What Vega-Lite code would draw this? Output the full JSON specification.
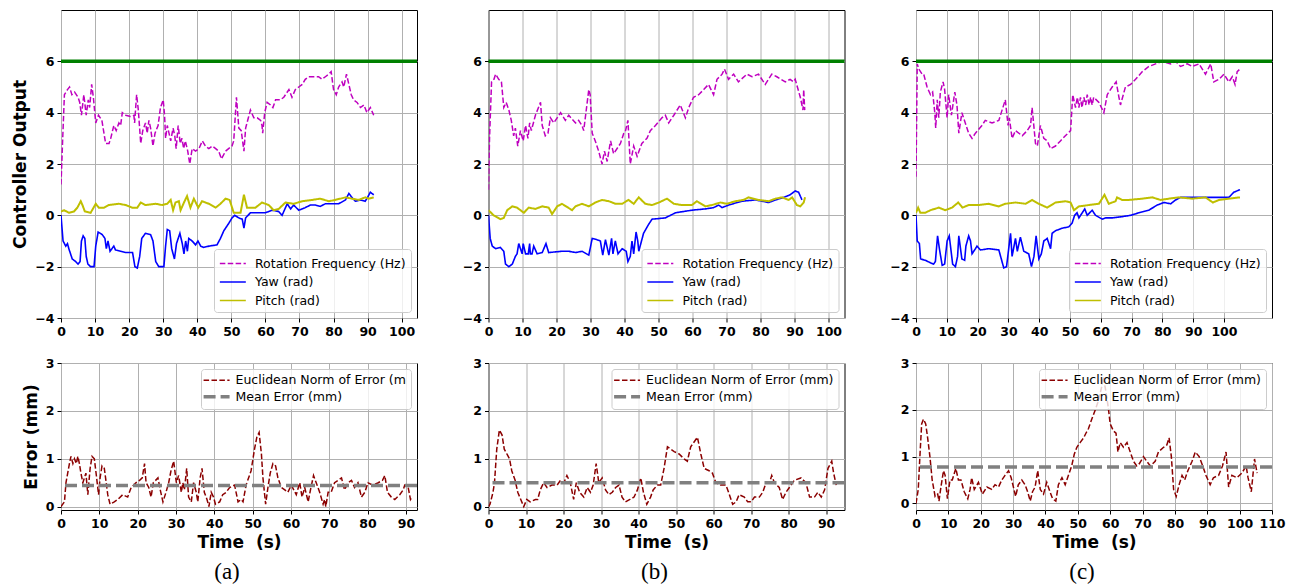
{
"$schema": "https://vega.github.io/schema/vega-lite/v6.json",
"padding": {"left": 11, "top": 9, "right": 5, "bottom": 5},
"background": "white",
"datasets": {
"a_rot": [{"t":0,"v":1.2},{"t":0.5,"v":3.0},{"t":1,"v":4.7},{"t":1.9,"v":4.9},{"t":2.5,"v":5.0},{"t":3.2,"v":4.7},{"t":4,"v":4.8},{"t":5,"v":4.6},{"t":5.5,"v":4.4},{"t":6,"v":3.9},{"t":6.7,"v":4.7},{"t":7.4,"v":3.9},{"t":8,"v":4.5},{"t":8.4,"v":4.2},{"t":9,"v":5.1},{"t":9.5,"v":4.6},{"t":10.2,"v":3.6},{"t":11,"v":3.9},{"t":12,"v":3.7},{"t":13.1,"v":2.8},{"t":14.1,"v":2.8},{"t":14.6,"v":3.0},{"t":15.5,"v":3.5},{"t":16.2,"v":3.3},{"t":17,"v":3.6},{"t":17.5,"v":3.5},{"t":18,"v":4.0},{"t":19,"v":3.9},{"t":20.4,"v":3.85},{"t":21.4,"v":3.9},{"t":21.6,"v":3.6},{"t":22.2,"v":4.7},{"t":22.7,"v":4.1},{"t":23.4,"v":2.8},{"t":24,"v":3.3},{"t":24.8,"v":3.6},{"t":25.3,"v":3.2},{"t":25.8,"v":3.7},{"t":26.3,"v":3.4},{"t":27,"v":2.7},{"t":27.6,"v":3.2},{"t":28.5,"v":3.5},{"t":29.2,"v":4.2},{"t":30,"v":4.5},{"t":30.4,"v":3.9},{"t":30.7,"v":3.0},{"t":31.2,"v":3.5},{"t":31.7,"v":3.2},{"t":32.2,"v":2.9},{"t":32.9,"v":3.4},{"t":33.4,"v":3.1},{"t":33.8,"v":2.6},{"t":34.4,"v":3.5},{"t":35,"v":2.8},{"t":35.5,"v":3.0},{"t":36,"v":2.6},{"t":36.5,"v":2.9},{"t":37.2,"v":2.5},{"t":37.8,"v":2.0},{"t":38.5,"v":2.6},{"t":39.5,"v":2.5},{"t":40.5,"v":2.6},{"t":41.5,"v":2.9},{"t":42.4,"v":2.7},{"t":43.4,"v":2.6},{"t":44.4,"v":2.7},{"t":45.4,"v":2.6},{"t":46.3,"v":2.5},{"t":47.1,"v":2.2},{"t":48.3,"v":2.5},{"t":49.2,"v":2.6},{"t":50.2,"v":2.7},{"t":50.7,"v":2.9},{"t":51.5,"v":4.6},{"t":52.2,"v":3.4},{"t":52.9,"v":3.3},{"t":53.7,"v":2.5},{"t":54.2,"v":3.4},{"t":55,"v":3.8},{"t":55.6,"v":4.1},{"t":56.6,"v":3.8},{"t":57.6,"v":3.8},{"t":58.6,"v":3.7},{"t":59,"v":3.5},{"t":59.2,"v":3.2},{"t":59.8,"v":4.0},{"t":60.5,"v":4.4},{"t":61.5,"v":4.3},{"t":62.2,"v":4.2},{"t":63,"v":4.5},{"t":64.4,"v":4.5},{"t":65.4,"v":4.6},{"t":66.9,"v":4.9},{"t":67.8,"v":4.6},{"t":68.8,"v":4.9},{"t":69.8,"v":5.0},{"t":70.8,"v":5.1},{"t":71.7,"v":5.3},{"t":72.7,"v":5.4},{"t":74.2,"v":5.4},{"t":75.6,"v":5.4},{"t":76.6,"v":5.3},{"t":77.6,"v":5.4},{"t":78.6,"v":5.5},{"t":79.3,"v":5.6},{"t":80,"v":4.9},{"t":80.8,"v":4.7},{"t":81.5,"v":5.0},{"t":82.5,"v":5.2},{"t":83,"v":5.0},{"t":83.8,"v":5.5},{"t":84.5,"v":5.1},{"t":85.2,"v":4.7},{"t":85.9,"v":4.5},{"t":86.9,"v":4.4},{"t":87.9,"v":4.2},{"t":88.9,"v":4.3},{"t":89.8,"v":4.0},{"t":90.8,"v":4.2},{"t":91.8,"v":3.9}],
"a_yaw": [{"t":0,"v":0},{"t":0.6,"v":-1.0},{"t":1.4,"v":-1.2},{"t":1.9,"v":-1.1},{"t":2.3,"v":-1.3},{"t":2.8,"v":-1.5},{"t":3.3,"v":-1.7},{"t":4.3,"v":-1.8},{"t":5,"v":-1.9},{"t":5.6,"v":-1.8},{"t":6,"v":-1.0},{"t":6.5,"v":-0.8},{"t":7,"v":-0.9},{"t":7.4,"v":-1.6},{"t":7.9,"v":-1.9},{"t":8.7,"v":-2.0},{"t":9.7,"v":-2.0},{"t":10.2,"v":-1.2},{"t":10.9,"v":-0.65},{"t":12.1,"v":-0.75},{"t":12.9,"v":-0.9},{"t":13.3,"v":-1.3},{"t":13.8,"v":-1.0},{"t":14.4,"v":-1.4},{"t":15.5,"v":-1.2},{"t":16,"v":-1.35},{"t":17.5,"v":-1.4},{"t":19,"v":-1.45},{"t":21,"v":-1.45},{"t":21.7,"v":-2.0},{"t":22.4,"v":-2.05},{"t":23.1,"v":-1.6},{"t":23.7,"v":-0.9},{"t":24.8,"v":-0.7},{"t":26.3,"v":-0.75},{"t":27,"v":-1.0},{"t":27.8,"v":-1.8},{"t":28.7,"v":-2.0},{"t":30.2,"v":-2.0},{"t":30.7,"v":-1.2},{"t":31.2,"v":-0.55},{"t":31.9,"v":-0.6},{"t":32.5,"v":-1.3},{"t":33.3,"v":-1.7},{"t":33.9,"v":-1.1},{"t":34.9,"v":-0.7},{"t":35.6,"v":-1.1},{"t":36.1,"v":-1.5},{"t":36.6,"v":-1.0},{"t":37.1,"v":-1.4},{"t":37.5,"v":-0.9},{"t":38.5,"v":-1.0},{"t":39.5,"v":-1.15},{"t":40.2,"v":-1.0},{"t":41,"v":-1.2},{"t":41.9,"v":-1.25},{"t":43.4,"v":-1.2},{"t":45.8,"v":-1.15},{"t":46.8,"v":-0.9},{"t":47.8,"v":-0.6},{"t":49.3,"v":-0.3},{"t":50.2,"v":-0.1},{"t":51,"v":0.0},{"t":52.2,"v":-0.1},{"t":53.2,"v":-0.15},{"t":53.7,"v":-0.5},{"t":54.2,"v":-0.1},{"t":55.6,"v":0.1},{"t":57.6,"v":0.1},{"t":60,"v":0.1},{"t":62,"v":0.2},{"t":63.9,"v":0.15},{"t":64.9,"v":0.0},{"t":65.9,"v":0.3},{"t":66.4,"v":0.45},{"t":67.4,"v":0.25},{"t":68.3,"v":0.4},{"t":69.8,"v":0.2},{"t":71.7,"v":0.3},{"t":73.2,"v":0.4},{"t":74.7,"v":0.4},{"t":76.1,"v":0.35},{"t":77.6,"v":0.45},{"t":79.6,"v":0.45},{"t":81.5,"v":0.45},{"t":83.5,"v":0.6},{"t":84.5,"v":0.85},{"t":85.4,"v":0.7},{"t":86.4,"v":0.55},{"t":87.9,"v":0.6},{"t":89.3,"v":0.55},{"t":90,"v":0.7},{"t":90.8,"v":0.9},{"t":91.8,"v":0.8}],
"a_pitch": [{"t":0,"v":0.15},{"t":0.9,"v":0.2},{"t":2.3,"v":0.1},{"t":3.8,"v":0.15},{"t":4.8,"v":0.3},{"t":5.8,"v":0.55},{"t":6.3,"v":0.4},{"t":7,"v":0.15},{"t":8.7,"v":0.1},{"t":10.2,"v":0.45},{"t":11.1,"v":0.3},{"t":12.6,"v":0.3},{"t":14,"v":0.4},{"t":17,"v":0.45},{"t":19,"v":0.4},{"t":20.9,"v":0.3},{"t":22.4,"v":0.3},{"t":23.4,"v":0.5},{"t":24.8,"v":0.4},{"t":27.8,"v":0.45},{"t":29.7,"v":0.4},{"t":31.2,"v":0.45},{"t":32.2,"v":0.6},{"t":32.9,"v":0.2},{"t":33.6,"v":0.5},{"t":34.6,"v":0.55},{"t":35.1,"v":0.2},{"t":36.1,"v":0.5},{"t":37,"v":0.75},{"t":38,"v":0.3},{"t":39,"v":0.65},{"t":40.3,"v":0.3},{"t":41.4,"v":0.55},{"t":43.4,"v":0.45},{"t":45.4,"v":0.3},{"t":46.8,"v":0.45},{"t":48.3,"v":0.65},{"t":49.5,"v":0.6},{"t":50.7,"v":0.1},{"t":52.7,"v":0.1},{"t":53.7,"v":0.8},{"t":54.6,"v":0.3},{"t":57.1,"v":0.3},{"t":59,"v":0.5},{"t":61,"v":0.4},{"t":62.4,"v":0.2},{"t":63.9,"v":0.25},{"t":65.9,"v":0.5},{"t":68.3,"v":0.45},{"t":70.8,"v":0.55},{"t":73.7,"v":0.6},{"t":76.1,"v":0.65},{"t":78.6,"v":0.55},{"t":80.5,"v":0.6},{"t":83.5,"v":0.7},{"t":85.4,"v":0.65},{"t":87.4,"v":0.6},{"t":89.3,"v":0.7},{"t":90.3,"v":0.65},{"t":91.8,"v":0.7}],
"b_rot": [{"t":0,"v":1.0},{"t":0.3,"v":3.0},{"t":0.9,"v":5.2},{"t":1.6,"v":5.3},{"t":2.1,"v":5.5},{"t":3,"v":5.3},{"t":3.8,"v":5.2},{"t":4.5,"v":4.2},{"t":5.2,"v":4.4},{"t":6,"v":4.1},{"t":6.7,"v":3.7},{"t":7.4,"v":3.1},{"t":7.9,"v":3.4},{"t":8.6,"v":2.7},{"t":9.4,"v":3.3},{"t":10.2,"v":2.9},{"t":10.9,"v":3.5},{"t":11.6,"v":3.0},{"t":12.1,"v":3.6},{"t":12.6,"v":3.3},{"t":13.8,"v":3.9},{"t":15.3,"v":4.4},{"t":15.8,"v":3.5},{"t":16.7,"v":3.1},{"t":17.5,"v":3.2},{"t":18.2,"v":3.8},{"t":19.2,"v":3.6},{"t":21.2,"v":4.0},{"t":22.6,"v":3.7},{"t":23.6,"v":3.9},{"t":25.6,"v":3.6},{"t":26.5,"v":3.7},{"t":27.5,"v":3.5},{"t":28,"v":3.3},{"t":29.5,"v":4.9},{"t":29.9,"v":4.7},{"t":30.5,"v":3.2},{"t":31.4,"v":2.9},{"t":32.4,"v":2.5},{"t":33.4,"v":2.0},{"t":34.1,"v":2.5},{"t":34.9,"v":2.1},{"t":35.9,"v":2.9},{"t":36.8,"v":2.4},{"t":38.8,"v":2.8},{"t":39.8,"v":3.2},{"t":40.3,"v":3.3},{"t":41,"v":3.7},{"t":41.7,"v":2.0},{"t":42.7,"v":2.7},{"t":43.7,"v":2.3},{"t":45.1,"v":2.8},{"t":46.6,"v":3.0},{"t":47.6,"v":3.3},{"t":49.1,"v":3.5},{"t":51,"v":3.8},{"t":52,"v":3.9},{"t":53,"v":3.6},{"t":54.5,"v":3.9},{"t":56.4,"v":4.3},{"t":57.9,"v":3.8},{"t":58.9,"v":4.2},{"t":60.3,"v":4.6},{"t":61.8,"v":4.7},{"t":63.3,"v":4.9},{"t":64.7,"v":5.1},{"t":66.2,"v":4.7},{"t":67.2,"v":5.3},{"t":68.7,"v":5.5},{"t":69.4,"v":5.7},{"t":70.6,"v":5.3},{"t":72.1,"v":5.5},{"t":73.5,"v":5.2},{"t":76,"v":5.5},{"t":77.5,"v":5.4},{"t":79.4,"v":5.5},{"t":81.4,"v":5.1},{"t":83.3,"v":5.5},{"t":84.8,"v":5.4},{"t":87.3,"v":5.2},{"t":88.7,"v":5.3},{"t":89.7,"v":5.2},{"t":90.2,"v":5.3},{"t":91.7,"v":4.6},{"t":92.5,"v":4.1},{"t":92.7,"v":4.9},{"t":93,"v":4.1}],
"b_yaw": [{"t":0,"v":0},{"t":0.5,"v":-0.9},{"t":1.1,"v":-1.2},{"t":2.1,"v":-1.3},{"t":3.5,"v":-1.25},{"t":4.5,"v":-1.4},{"t":5,"v":-1.9},{"t":6,"v":-2.0},{"t":7,"v":-1.9},{"t":7.9,"v":-1.6},{"t":8.4,"v":-1.5},{"t":8.9,"v":-1.1},{"t":9.9,"v":-1.5},{"t":10.2,"v":-1.1},{"t":10.9,"v":-1.5},{"t":11.7,"v":-1.5},{"t":12.1,"v":-1.1},{"t":12.3,"v":-1.5},{"t":12.8,"v":-1.5},{"t":13.3,"v":-1.2},{"t":14.3,"v":-1.5},{"t":15.8,"v":-1.45},{"t":16.9,"v":-1.1},{"t":17.7,"v":-1.45},{"t":21.6,"v":-1.4},{"t":23.6,"v":-1.4},{"t":25.6,"v":-1.45},{"t":27.5,"v":-1.4},{"t":29.5,"v":-1.55},{"t":30.5,"v":-0.9},{"t":31.9,"v":-0.95},{"t":32.9,"v":-1.0},{"t":33.6,"v":-1.55},{"t":34.4,"v":-0.95},{"t":35.4,"v":-1.55},{"t":36.2,"v":-0.9},{"t":36.6,"v":-1.5},{"t":37.3,"v":-1.0},{"t":38.1,"v":-1.5},{"t":39.3,"v":-1.3},{"t":40.5,"v":-1.4},{"t":41,"v":-1.8},{"t":41.7,"v":-1.6},{"t":42.2,"v":-1.0},{"t":42.7,"v":-1.5},{"t":43.4,"v":-0.65},{"t":43.9,"v":-1.0},{"t":44.2,"v":-1.4},{"t":45.6,"v":-0.7},{"t":47.1,"v":-0.35},{"t":48.1,"v":-0.15},{"t":52,"v":-0.1},{"t":55,"v":0.1},{"t":59.8,"v":0.2},{"t":63.8,"v":0.25},{"t":66.2,"v":0.3},{"t":67.7,"v":0.4},{"t":68.7,"v":0.3},{"t":70.6,"v":0.4},{"t":74.5,"v":0.55},{"t":78.5,"v":0.6},{"t":82.4,"v":0.5},{"t":84.4,"v":0.6},{"t":86.8,"v":0.7},{"t":88.7,"v":0.8},{"t":90.2,"v":0.95},{"t":91.2,"v":0.9},{"t":92.2,"v":0.6}],
"b_pitch": [{"t":0,"v":0.2},{"t":1.5,"v":0.0},{"t":3.5,"v":-0.15},{"t":4.5,"v":-0.1},{"t":5.5,"v":0.2},{"t":7,"v":0.35},{"t":8.4,"v":0.3},{"t":10.4,"v":0.1},{"t":11.8,"v":0.3},{"t":13.8,"v":0.25},{"t":15.8,"v":0.35},{"t":17.7,"v":0.3},{"t":18.7,"v":0.05},{"t":20.2,"v":0.35},{"t":21.6,"v":0.45},{"t":24.6,"v":0.2},{"t":25.6,"v":0.35},{"t":27.5,"v":0.45},{"t":29.5,"v":0.35},{"t":31.4,"v":0.5},{"t":33.4,"v":0.6},{"t":35.4,"v":0.55},{"t":37.3,"v":0.45},{"t":39.3,"v":0.45},{"t":41.2,"v":0.6},{"t":42.7,"v":0.45},{"t":44.2,"v":0.7},{"t":46.1,"v":0.45},{"t":48.1,"v":0.4},{"t":50.1,"v":0.5},{"t":52.5,"v":0.65},{"t":54.5,"v":0.45},{"t":56.9,"v":0.4},{"t":59.8,"v":0.4},{"t":61.3,"v":0.55},{"t":63.8,"v":0.35},{"t":65.7,"v":0.4},{"t":68.2,"v":0.5},{"t":70.1,"v":0.45},{"t":72.6,"v":0.55},{"t":75,"v":0.6},{"t":76.5,"v":0.7},{"t":79.4,"v":0.6},{"t":82.4,"v":0.55},{"t":84.4,"v":0.65},{"t":86.3,"v":0.7},{"t":88.3,"v":0.6},{"t":89.3,"v":0.7},{"t":90.7,"v":0.4},{"t":91.7,"v":0.35},{"t":92.7,"v":0.5},{"t":93.1,"v":0.7}],
"c_rot": [{"t":0,"v":1.5},{"t":0.4,"v":5.9},{"t":0.9,"v":5.7},{"t":2,"v":5.5},{"t":2.5,"v":5.5},{"t":3.6,"v":5.0},{"t":4.7,"v":4.7},{"t":5.4,"v":4.8},{"t":6.1,"v":4.0},{"t":6.4,"v":3.4},{"t":6.9,"v":4.5},{"t":7.4,"v":3.8},{"t":7.9,"v":4.8},{"t":8.8,"v":5.2},{"t":9.3,"v":4.9},{"t":10.1,"v":3.8},{"t":10.6,"v":4.7},{"t":11.5,"v":3.9},{"t":12.6,"v":4.8},{"t":13.3,"v":4.3},{"t":13.9,"v":3.2},{"t":14.9,"v":4.0},{"t":16,"v":3.6},{"t":17.1,"v":3.2},{"t":18.2,"v":3.0},{"t":19.3,"v":3.2},{"t":21.4,"v":3.5},{"t":22.5,"v":3.7},{"t":24.7,"v":3.6},{"t":26.9,"v":3.7},{"t":29,"v":4.5},{"t":29.9,"v":3.5},{"t":30.3,"v":3.8},{"t":31.2,"v":3.0},{"t":32.3,"v":3.3},{"t":34.5,"v":3.1},{"t":36.1,"v":3.3},{"t":37.2,"v":3.5},{"t":37.7,"v":4.2},{"t":38.8,"v":2.8},{"t":39.4,"v":2.7},{"t":40.4,"v":3.5},{"t":41.5,"v":3.0},{"t":42.6,"v":2.9},{"t":43.7,"v":2.6},{"t":45.3,"v":2.7},{"t":46.9,"v":2.9},{"t":48.5,"v":3.1},{"t":50.2,"v":3.3},{"t":50.9,"v":4.7},{"t":51.8,"v":4.2},{"t":52.4,"v":4.6},{"t":52.9,"v":4.2},{"t":53.4,"v":4.6},{"t":53.9,"v":4.2},{"t":54.5,"v":4.6},{"t":55.1,"v":4.3},{"t":55.6,"v":4.7},{"t":56.2,"v":4.3},{"t":56.7,"v":4.6},{"t":57.2,"v":4.3},{"t":57.7,"v":4.6},{"t":59.4,"v":4.4},{"t":61,"v":4.0},{"t":62.1,"v":4.7},{"t":63.7,"v":5.0},{"t":65,"v":5.2},{"t":65.9,"v":4.6},{"t":66.4,"v":4.3},{"t":68,"v":5.0},{"t":69.7,"v":5.1},{"t":71.3,"v":5.3},{"t":73.5,"v":5.6},{"t":75.6,"v":5.8},{"t":77.8,"v":5.9},{"t":80,"v":6.0},{"t":82.7,"v":5.9},{"t":84.3,"v":6.0},{"t":85.9,"v":5.8},{"t":88.1,"v":5.9},{"t":89.7,"v":5.8},{"t":91.9,"v":5.9},{"t":94,"v":5.5},{"t":95.7,"v":5.9},{"t":96.7,"v":5.2},{"t":98.4,"v":5.3},{"t":100,"v":5.5},{"t":101.6,"v":5.2},{"t":102.7,"v":5.4},{"t":103.6,"v":5.1},{"t":104.3,"v":5.6},{"t":105.2,"v":5.7}],
"c_yaw": [{"t":0,"v":0},{"t":0.4,"v":-1.0},{"t":1.1,"v":-1.1},{"t":1.5,"v":-1.7},{"t":3,"v":-1.75},{"t":4.7,"v":-1.85},{"t":5.7,"v":-1.9},{"t":6.3,"v":-1.8},{"t":7,"v":-0.8},{"t":7.6,"v":-1.3},{"t":8.5,"v":-1.95},{"t":9.3,"v":-1.9},{"t":10.1,"v":-1.0},{"t":10.8,"v":-0.8},{"t":11.9,"v":-1.9},{"t":12.8,"v":-2.0},{"t":13.5,"v":-1.6},{"t":13.9,"v":-0.8},{"t":14.9,"v":-1.7},{"t":15.8,"v":-1.75},{"t":16.2,"v":-1.2},{"t":17.1,"v":-0.8},{"t":17.7,"v":-1.0},{"t":18.2,"v":-1.5},{"t":19.3,"v":-1.3},{"t":19.8,"v":-1.2},{"t":20.9,"v":-1.35},{"t":23.6,"v":-1.3},{"t":26.9,"v":-1.35},{"t":28.5,"v":-2.05},{"t":29.4,"v":-2.0},{"t":30.1,"v":-1.3},{"t":30.7,"v":-0.7},{"t":31.2,"v":-1.6},{"t":32.3,"v":-0.9},{"t":32.9,"v":-1.4},{"t":33.9,"v":-0.85},{"t":35,"v":-1.4},{"t":36.6,"v":-1.5},{"t":37.5,"v":-2.0},{"t":38.3,"v":-1.6},{"t":39,"v":-0.8},{"t":39.9,"v":-1.7},{"t":40.7,"v":-1.5},{"t":41.5,"v":-1.0},{"t":42.6,"v":-0.9},{"t":43.7,"v":-1.3},{"t":44.2,"v":-0.7},{"t":45.3,"v":-0.6},{"t":47.5,"v":-0.5},{"t":49.6,"v":-0.45},{"t":50.7,"v":-0.3},{"t":51.5,"v":0.0},{"t":52.3,"v":0.1},{"t":52.9,"v":-0.1},{"t":54.8,"v":0.25},{"t":55.6,"v":0.0},{"t":57.2,"v":0.2},{"t":58.3,"v":0.0},{"t":60.5,"v":-0.15},{"t":61.6,"v":-0.1},{"t":63.7,"v":-0.1},{"t":67,"v":-0.05},{"t":69.7,"v":0.0},{"t":72.4,"v":0.1},{"t":75.6,"v":0.2},{"t":78.3,"v":0.4},{"t":80.5,"v":0.5},{"t":82.7,"v":0.45},{"t":84.3,"v":0.6},{"t":85.9,"v":0.7},{"t":89.7,"v":0.7},{"t":94,"v":0.7},{"t":98.4,"v":0.7},{"t":101.6,"v":0.7},{"t":103.2,"v":0.9},{"t":105.2,"v":1.0}],
"c_pitch": [{"t":0,"v":0.1},{"t":0.7,"v":0.3},{"t":1.4,"v":0.1},{"t":3,"v":0.1},{"t":4.7,"v":0.2},{"t":7.4,"v":0.3},{"t":9.5,"v":0.2},{"t":11.7,"v":0.3},{"t":13.7,"v":0.5},{"t":15.1,"v":0.3},{"t":17.1,"v":0.4},{"t":20.4,"v":0.4},{"t":23.6,"v":0.45},{"t":26.9,"v":0.35},{"t":29,"v":0.45},{"t":32.3,"v":0.5},{"t":35.6,"v":0.45},{"t":37.7,"v":0.6},{"t":39.9,"v":0.45},{"t":42.6,"v":0.3},{"t":45.3,"v":0.5},{"t":48.5,"v":0.55},{"t":50.2,"v":0.5},{"t":51.3,"v":0.2},{"t":52.9,"v":0.35},{"t":56.1,"v":0.4},{"t":59.4,"v":0.45},{"t":61.2,"v":0.8},{"t":62.6,"v":0.45},{"t":64.8,"v":0.55},{"t":65.3,"v":0.7},{"t":66.9,"v":0.6},{"t":69.1,"v":0.6},{"t":73.5,"v":0.65},{"t":76.7,"v":0.7},{"t":79.4,"v":0.6},{"t":82.1,"v":0.65},{"t":85.4,"v":0.7},{"t":89.7,"v":0.65},{"t":94,"v":0.7},{"t":96.4,"v":0.5},{"t":98.4,"v":0.6},{"t":101.6,"v":0.65},{"t":105.2,"v":0.7}],
"a_err": [{"t":0,"v":0},{"t":0.9,"v":0.1},{"t":1.3,"v":0.5},{"t":2.2,"v":0.9},{"t":2.6,"v":1.05},{"t":3.1,"v":0.9},{"t":3.5,"v":1.0},{"t":4,"v":0.9},{"t":4.4,"v":1.05},{"t":4.8,"v":0.9},{"t":5.2,"v":0.7},{"t":5.7,"v":0.5},{"t":6.1,"v":0.6},{"t":6.5,"v":0.7},{"t":7,"v":0.25},{"t":7.6,"v":0.8},{"t":8.1,"v":1.05},{"t":8.7,"v":1.0},{"t":9.3,"v":0.6},{"t":9.8,"v":0.25},{"t":10.2,"v":0.6},{"t":10.7,"v":0.85},{"t":11.3,"v":0.8},{"t":11.8,"v":0.5},{"t":12.2,"v":0.25},{"t":12.8,"v":0.05},{"t":13.9,"v":0.1},{"t":14.8,"v":0.15},{"t":16.1,"v":0.25},{"t":17.4,"v":0.2},{"t":18.3,"v":0.4},{"t":19.6,"v":0.5},{"t":20.5,"v":0.55},{"t":21.2,"v":0.6},{"t":21.8,"v":0.9},{"t":22.2,"v":0.5},{"t":22.9,"v":0.4},{"t":23.5,"v":0.2},{"t":24.1,"v":0.5},{"t":25.3,"v":0.6},{"t":25.9,"v":0.35},{"t":26.6,"v":0.1},{"t":27.4,"v":0.3},{"t":28.1,"v":0.5},{"t":28.7,"v":0.75},{"t":29.4,"v":0.95},{"t":30.1,"v":0.5},{"t":30.7,"v":0.65},{"t":31.4,"v":0.3},{"t":31.8,"v":0.5},{"t":32.2,"v":0.35},{"t":32.8,"v":0.8},{"t":33.3,"v":0.2},{"t":34,"v":0.1},{"t":34.6,"v":0.5},{"t":35.3,"v":0.3},{"t":35.7,"v":0.1},{"t":36.3,"v":0.6},{"t":36.8,"v":0.8},{"t":37.4,"v":0.3},{"t":38.1,"v":0.15},{"t":38.6,"v":0.0},{"t":39.2,"v":0.3},{"t":39.8,"v":0.2},{"t":40.3,"v":0.05},{"t":41.4,"v":0.1},{"t":42.2,"v":0.25},{"t":43.1,"v":0.3},{"t":44,"v":0.4},{"t":45.3,"v":0.45},{"t":46.2,"v":0.1},{"t":47,"v":0.15},{"t":47.5,"v":0.1},{"t":48.3,"v":0.45},{"t":49.6,"v":0.75},{"t":50.5,"v":1.2},{"t":51.1,"v":1.45},{"t":51.7,"v":1.55},{"t":52.3,"v":1.1},{"t":52.7,"v":0.6},{"t":53.4,"v":0.05},{"t":54,"v":0.4},{"t":54.6,"v":0.7},{"t":55.3,"v":0.9},{"t":56,"v":0.85},{"t":56.6,"v":0.6},{"t":57.5,"v":0.4},{"t":58.4,"v":0.35},{"t":59.2,"v":0.3},{"t":60.1,"v":0.45},{"t":61.4,"v":0.25},{"t":62.3,"v":0.5},{"t":62.9,"v":0.2},{"t":63.6,"v":0.4},{"t":64.5,"v":0.1},{"t":65.1,"v":0.35},{"t":65.9,"v":0.65},{"t":66.6,"v":0.5},{"t":67.5,"v":0.3},{"t":68.4,"v":0.05},{"t":68.8,"v":0.15},{"t":69.1,"v":0.0},{"t":69.7,"v":0.3},{"t":70.5,"v":0.3},{"t":71.4,"v":0.5},{"t":73.2,"v":0.6},{"t":74,"v":0.35},{"t":74.9,"v":0.5},{"t":75.8,"v":0.55},{"t":76.6,"v":0.4},{"t":77.5,"v":0.5},{"t":78.4,"v":0.2},{"t":79.3,"v":0.3},{"t":80.1,"v":0.5},{"t":81.4,"v":0.45},{"t":82.8,"v":0.5},{"t":83.9,"v":0.55},{"t":84.5,"v":0.65},{"t":85.2,"v":0.3},{"t":86.2,"v":0.2},{"t":87.1,"v":0.15},{"t":88.4,"v":0.25},{"t":89.3,"v":0.35},{"t":89.7,"v":0.45},{"t":90.6,"v":0.4},{"t":91.2,"v":0.15},{"t":91.6,"v":0.2}],
"b_err": [{"t":0,"v":0},{"t":0.4,"v":0.05},{"t":1.2,"v":0.3},{"t":1.6,"v":0.5},{"t":2.2,"v":1.2},{"t":2.9,"v":1.6},{"t":3.6,"v":1.5},{"t":4.2,"v":1.2},{"t":4.9,"v":1.1},{"t":5.6,"v":1.0},{"t":6.2,"v":0.75},{"t":7.1,"v":0.55},{"t":7.8,"v":0.3},{"t":8.6,"v":0.15},{"t":9.4,"v":0.0},{"t":10.2,"v":0.15},{"t":11.1,"v":0.1},{"t":12.5,"v":0.15},{"t":13.1,"v":0.15},{"t":13.8,"v":0.35},{"t":14.7,"v":0.5},{"t":15.6,"v":0.4},{"t":16.9,"v":0.45},{"t":18.3,"v":0.45},{"t":19.2,"v":0.55},{"t":20.1,"v":0.5},{"t":20.9,"v":0.65},{"t":21.8,"v":0.5},{"t":22.7,"v":0.15},{"t":23.4,"v":0.5},{"t":24.3,"v":0.3},{"t":25.4,"v":0.2},{"t":26.3,"v":0.4},{"t":27.2,"v":0.3},{"t":27.9,"v":0.45},{"t":28.7,"v":0.9},{"t":29.4,"v":0.5},{"t":30.3,"v":0.6},{"t":31.2,"v":0.35},{"t":32.1,"v":0.25},{"t":33,"v":0.3},{"t":33.9,"v":0.4},{"t":34.8,"v":0.45},{"t":35.6,"v":0.2},{"t":36.5,"v":0.1},{"t":37.7,"v":0.15},{"t":38.8,"v":0.2},{"t":39.7,"v":0.35},{"t":40.6,"v":0.6},{"t":41.3,"v":0.3},{"t":42.2,"v":0.05},{"t":43.2,"v":0.2},{"t":43.9,"v":0.35},{"t":45,"v":0.45},{"t":45.9,"v":0.45},{"t":46.8,"v":0.8},{"t":47.7,"v":1.25},{"t":48.6,"v":1.2},{"t":49.5,"v":1.15},{"t":50.8,"v":1.1},{"t":52.1,"v":1.0},{"t":53,"v":0.95},{"t":53.9,"v":1.25},{"t":54.8,"v":1.35},{"t":55.7,"v":1.45},{"t":56.6,"v":1.1},{"t":57.5,"v":0.8},{"t":58.8,"v":0.75},{"t":59.7,"v":0.7},{"t":60.6,"v":0.5},{"t":61.9,"v":0.45},{"t":63.3,"v":0.45},{"t":64,"v":0.3},{"t":65.1,"v":0.05},{"t":66,"v":0.1},{"t":66.8,"v":0.25},{"t":68.2,"v":0.2},{"t":69.1,"v":0.1},{"t":70,"v":0.1},{"t":70.9,"v":0.2},{"t":72.2,"v":0.2},{"t":73.1,"v":0.3},{"t":74,"v":0.5},{"t":74.9,"v":0.5},{"t":75.5,"v":0.65},{"t":76.2,"v":0.5},{"t":77.5,"v":0.4},{"t":78.4,"v":0.15},{"t":79.3,"v":0.3},{"t":80.2,"v":0.4},{"t":81.5,"v":0.55},{"t":83.3,"v":0.6},{"t":84.6,"v":0.5},{"t":85.6,"v":0.2},{"t":86.9,"v":0.2},{"t":87.8,"v":0.3},{"t":88.7,"v":0.2},{"t":89.6,"v":0.35},{"t":90.5,"v":0.8},{"t":91.5,"v":0.95},{"t":92,"v":0.7},{"t":92.7,"v":0.45}],
"c_err": [{"t":0,"v":0},{"t":0.7,"v":0.3},{"t":1.2,"v":1.0},{"t":1.75,"v":1.7},{"t":2.3,"v":1.8},{"t":3,"v":1.7},{"t":3.6,"v":1.4},{"t":4.3,"v":1.0},{"t":5,"v":0.5},{"t":5.9,"v":0.15},{"t":6.7,"v":0.2},{"t":7.1,"v":0.05},{"t":7.7,"v":0.35},{"t":8.5,"v":0.7},{"t":9,"v":0.6},{"t":9.7,"v":0.1},{"t":10.5,"v":0.5},{"t":11.2,"v":0.5},{"t":12.3,"v":0.75},{"t":13.1,"v":0.5},{"t":13.9,"v":0.5},{"t":14.9,"v":0.25},{"t":16,"v":0.1},{"t":16.7,"v":0.3},{"t":17.2,"v":0.55},{"t":18,"v":0.3},{"t":19.3,"v":0.45},{"t":20.5,"v":0.2},{"t":21.9,"v":0.35},{"t":23.4,"v":0.3},{"t":24.4,"v":0.4},{"t":25.5,"v":0.35},{"t":26.5,"v":0.5},{"t":27.5,"v":0.6},{"t":28.6,"v":0.7},{"t":29.4,"v":0.55},{"t":30.1,"v":0.35},{"t":30.8,"v":0.15},{"t":31.6,"v":0.4},{"t":32.7,"v":0.5},{"t":33.7,"v":0.4},{"t":34.5,"v":0.25},{"t":35.3,"v":0.05},{"t":36,"v":0.25},{"t":36.8,"v":0.35},{"t":37.6,"v":0.7},{"t":38.4,"v":0.3},{"t":39.4,"v":0.2},{"t":40.4,"v":0.45},{"t":41.4,"v":0.25},{"t":42.2,"v":0.1},{"t":43.2,"v":0.05},{"t":44,"v":0.4},{"t":45.1,"v":0.55},{"t":46.1,"v":0.4},{"t":47.1,"v":0.6},{"t":48.1,"v":0.8},{"t":48.9,"v":1.05},{"t":49.7,"v":1.2},{"t":50.7,"v":1.3},{"t":51.8,"v":1.4},{"t":52.5,"v":1.5},{"t":53.3,"v":1.6},{"t":54.3,"v":1.8},{"t":55.4,"v":2.0},{"t":56.4,"v":2.2},{"t":57.4,"v":2.5},{"t":57.9,"v":2.7},{"t":58.9,"v":2.3},{"t":59.5,"v":2.0},{"t":60,"v":1.7},{"t":61,"v":1.55},{"t":61.8,"v":1.5},{"t":62.4,"v":1.1},{"t":63.1,"v":1.3},{"t":64.1,"v":1.2},{"t":65.2,"v":1.3},{"t":66.2,"v":1.1},{"t":67.2,"v":0.9},{"t":68.2,"v":0.8},{"t":69,"v":0.85},{"t":70.3,"v":1.0},{"t":71.3,"v":0.9},{"t":72.4,"v":0.8},{"t":73.9,"v":0.9},{"t":74.9,"v":1.1},{"t":76.5,"v":1.2},{"t":77.5,"v":1.25},{"t":78.2,"v":1.4},{"t":78.9,"v":1.0},{"t":79.6,"v":0.3},{"t":80.4,"v":0.15},{"t":81.3,"v":0.4},{"t":82.2,"v":0.6},{"t":83,"v":0.5},{"t":84,"v":0.7},{"t":85.3,"v":0.9},{"t":86.3,"v":1.1},{"t":87.5,"v":1.0},{"t":88.6,"v":0.8},{"t":89.6,"v":0.6},{"t":90.9,"v":0.4},{"t":91.9,"v":0.55},{"t":93.5,"v":0.6},{"t":94.7,"v":0.8},{"t":95.8,"v":1.1},{"t":96.6,"v":0.35},{"t":97.6,"v":0.6},{"t":99.2,"v":0.55},{"t":100.7,"v":0.65},{"t":102,"v":0.8},{"t":102.6,"v":0.55},{"t":103.6,"v":0.25},{"t":104.6,"v":0.95},{"t":105.4,"v":0.65}]
},
"bounds": "full",
"spacing": 18,
"resolve": {"scale": {"color": "independent", "strokeDash": "independent"}, "legend": {"color": "independent", "strokeDash": "independent"}},
"vconcat": [
{
"hconcat": [
{"width": 356, "height": 308,
 "layer": [
  {"data": {"name": "a_rot"}, "mark": {"type": "line", "strokeWidth": 1.5, "clip": true},
   "encoding": {
    "x": {"field": "t", "type": "quantitative", "scale": {"domain": [0, 104.5], "nice": false, "zero": false}, "axis": {"values": [0,10,20,30,40,50,60,70,80,90,100], "title": null, "labelOverlap": false}},
    "y": {"field": "v", "type": "quantitative", "scale": {"domain": [-4, 8], "nice": false, "zero": false}, "axis": {"values": [-4,-2,0,2,4,6], "title": "Controller Output", "labelOverlap": false}},
    "color": {"datum": "Rotation Frequency (Hz)", "scale": {"domain": ["Rotation Frequency (Hz)", "Yaw (rad)", "Pitch (rad)"], "range": ["#bf00bf", "#0000ff", "#bfbf00"]}, "legend": {"orient": "bottom-right", "title": null}},
    "strokeDash": {"datum": "Rotation Frequency (Hz)", "scale": {"domain": ["Rotation Frequency (Hz)", "Yaw (rad)", "Pitch (rad)"], "range": [[5.5, 2.4], [1, 0], [1, 0]]}, "legend": {"orient": "bottom-right", "title": null}}
   }},
  {"data": {"name": "a_yaw"}, "mark": {"type": "line", "strokeWidth": 1.6, "clip": true},
   "encoding": {"x": {"field": "t", "type": "quantitative", "axis": {"values": [0,10,20,30,40,50,60,70,80,90,100], "title": null, "labelOverlap": false}}, "y": {"field": "v", "type": "quantitative", "axis": {"values": [-4,-2,0,2,4,6], "title": "Controller Output", "labelOverlap": false}}, "color": {"datum": "Yaw (rad)"}, "strokeDash": {"datum": "Yaw (rad)"}}},
  {"data": {"name": "a_pitch"}, "mark": {"type": "line", "strokeWidth": 2, "clip": true},
   "encoding": {"x": {"field": "t", "type": "quantitative", "axis": {"values": [0,10,20,30,40,50,60,70,80,90,100], "title": null, "labelOverlap": false}}, "y": {"field": "v", "type": "quantitative", "axis": {"values": [-4,-2,0,2,4,6], "title": "Controller Output", "labelOverlap": false}}, "color": {"datum": "Pitch (rad)"}, "strokeDash": {"datum": "Pitch (rad)"}}},
  {"data": {"values": [{"limit": 6}]}, "mark": {"type": "rule", "color": "#008000", "strokeWidth": 3.5},
   "encoding": {"y": {"field": "limit", "type": "quantitative", "axis": {"values": [-4,-2,0,2,4,6], "title": "Controller Output", "labelOverlap": false}}}}
 ]},
{"width": 356, "height": 308,
 "layer": [
  {"data": {"name": "b_rot"}, "mark": {"type": "line", "strokeWidth": 1.5, "clip": true},
   "encoding": {
    "x": {"field": "t", "type": "quantitative", "scale": {"domain": [0, 104.7], "nice": false, "zero": false}, "axis": {"values": [0,10,20,30,40,50,60,70,80,90,100], "title": null, "labelOverlap": false}},
    "y": {"field": "v", "type": "quantitative", "scale": {"domain": [-4, 8], "nice": false, "zero": false}, "axis": {"values": [-4,-2,0,2,4,6], "title": null, "labelOverlap": false}},
    "color": {"datum": "Rotation Frequency (Hz)", "scale": {"domain": ["Rotation Frequency (Hz)", "Yaw (rad)", "Pitch (rad)"], "range": ["#bf00bf", "#0000ff", "#bfbf00"]}, "legend": {"orient": "bottom-right", "title": null}},
    "strokeDash": {"datum": "Rotation Frequency (Hz)", "scale": {"domain": ["Rotation Frequency (Hz)", "Yaw (rad)", "Pitch (rad)"], "range": [[5.5, 2.4], [1, 0], [1, 0]]}, "legend": {"orient": "bottom-right", "title": null}}
   }},
  {"data": {"name": "b_yaw"}, "mark": {"type": "line", "strokeWidth": 1.6, "clip": true},
   "encoding": {"x": {"field": "t", "type": "quantitative", "axis": {"values": [0,10,20,30,40,50,60,70,80,90,100], "title": null, "labelOverlap": false}}, "y": {"field": "v", "type": "quantitative", "axis": {"values": [-4,-2,0,2,4,6], "title": null, "labelOverlap": false}}, "color": {"datum": "Yaw (rad)"}, "strokeDash": {"datum": "Yaw (rad)"}}},
  {"data": {"name": "b_pitch"}, "mark": {"type": "line", "strokeWidth": 2, "clip": true},
   "encoding": {"x": {"field": "t", "type": "quantitative", "axis": {"values": [0,10,20,30,40,50,60,70,80,90,100], "title": null, "labelOverlap": false}}, "y": {"field": "v", "type": "quantitative", "axis": {"values": [-4,-2,0,2,4,6], "title": null, "labelOverlap": false}}, "color": {"datum": "Pitch (rad)"}, "strokeDash": {"datum": "Pitch (rad)"}}},
  {"data": {"values": [{"limit": 6}]}, "mark": {"type": "rule", "color": "#008000", "strokeWidth": 3.5},
   "encoding": {"y": {"field": "limit", "type": "quantitative", "axis": {"values": [-4,-2,0,2,4,6], "title": null, "labelOverlap": false}}}}
 ]},
{"width": 356, "height": 308,
 "layer": [
  {"data": {"name": "c_rot"}, "mark": {"type": "line", "strokeWidth": 1.5, "clip": true},
   "encoding": {
    "x": {"field": "t", "type": "quantitative", "scale": {"domain": [0, 115.6], "nice": false, "zero": false}, "axis": {"values": [0,10,20,30,40,50,60,70,80,90,100], "title": null, "labelOverlap": false}},
    "y": {"field": "v", "type": "quantitative", "scale": {"domain": [-4, 8], "nice": false, "zero": false}, "axis": {"values": [-4,-2,0,2,4,6], "title": null, "labelOverlap": false}},
    "color": {"datum": "Rotation Frequency (Hz)", "scale": {"domain": ["Rotation Frequency (Hz)", "Yaw (rad)", "Pitch (rad)"], "range": ["#bf00bf", "#0000ff", "#bfbf00"]}, "legend": {"orient": "bottom-right", "title": null}},
    "strokeDash": {"datum": "Rotation Frequency (Hz)", "scale": {"domain": ["Rotation Frequency (Hz)", "Yaw (rad)", "Pitch (rad)"], "range": [[5.5, 2.4], [1, 0], [1, 0]]}, "legend": {"orient": "bottom-right", "title": null}}
   }},
  {"data": {"name": "c_yaw"}, "mark": {"type": "line", "strokeWidth": 1.6, "clip": true},
   "encoding": {"x": {"field": "t", "type": "quantitative", "axis": {"values": [0,10,20,30,40,50,60,70,80,90,100], "title": null, "labelOverlap": false}}, "y": {"field": "v", "type": "quantitative", "axis": {"values": [-4,-2,0,2,4,6], "title": null, "labelOverlap": false}}, "color": {"datum": "Yaw (rad)"}, "strokeDash": {"datum": "Yaw (rad)"}}},
  {"data": {"name": "c_pitch"}, "mark": {"type": "line", "strokeWidth": 2, "clip": true},
   "encoding": {"x": {"field": "t", "type": "quantitative", "axis": {"values": [0,10,20,30,40,50,60,70,80,90,100], "title": null, "labelOverlap": false}}, "y": {"field": "v", "type": "quantitative", "axis": {"values": [-4,-2,0,2,4,6], "title": null, "labelOverlap": false}}, "color": {"datum": "Pitch (rad)"}, "strokeDash": {"datum": "Pitch (rad)"}}},
  {"data": {"values": [{"limit": 6}]}, "mark": {"type": "rule", "color": "#008000", "strokeWidth": 3.5},
   "encoding": {"y": {"field": "limit", "type": "quantitative", "axis": {"values": [-4,-2,0,2,4,6], "title": null, "labelOverlap": false}}}}
 ]}
],
"bounds": "flush",
"spacing": 71.5,
"resolve": {"scale": {"color": "independent", "strokeDash": "independent"}, "legend": {"color": "independent", "strokeDash": "independent"}}
},
{
"hconcat": [
{"width": 356, "height": 147,
 "title": {"text": "(a)", "dx": -12},
 "layer": [
  {"data": {"name": "a_err"}, "mark": {"type": "line", "strokeWidth": 1.5, "clip": true},
   "encoding": {
    "x": {"field": "t", "type": "quantitative", "scale": {"domain": [0, 92.9], "nice": false, "zero": false}, "axis": {"values": [0,10,20,30,40,50,60,70,80,90], "title": "Time\u00a0 (s)", "labelOverlap": false}},
    "y": {"field": "v", "type": "quantitative", "scale": {"domain": [-0.07, 3], "nice": false, "zero": false}, "axis": {"values": [0,1,2,3], "title": "Error (mm)", "labelOverlap": false}},
    "color": {"datum": "Euclidean Norm of Error (m", "scale": {"domain": ["Euclidean Norm of Error (m", "Mean Error (mm)"], "range": ["#8b0000", "#808080"]}, "legend": {"orient": "top-right", "title": null, "encode": {"symbols": {"update": {"strokeWidth": {"signal": "datum.value == 'Mean Error (mm)' ? 3.5 : 1.5"}}}}}},
    "strokeDash": {"datum": "Euclidean Norm of Error (m", "scale": {"domain": ["Euclidean Norm of Error (m", "Mean Error (mm)"], "range": [[5.5, 2.4], [12, 5]]}, "legend": {"orient": "top-right", "title": null}}
   }},
  {"data": {"values": [{"mean": 0.44}]}, "mark": {"type": "rule", "strokeWidth": 3.5},
   "encoding": {"y": {"field": "mean", "type": "quantitative", "axis": {"values": [0,1,2,3], "title": "Error (mm)", "labelOverlap": false}}, "color": {"datum": "Mean Error (mm)"}, "strokeDash": {"datum": "Mean Error (mm)"}}}
 ]},
{"width": 356, "height": 147,
 "title": {"text": "(b)", "dx": -12},
 "layer": [
  {"data": {"name": "b_err"}, "mark": {"type": "line", "strokeWidth": 1.5, "clip": true},
   "encoding": {
    "x": {"field": "t", "type": "quantitative", "scale": {"domain": [0, 94.9], "nice": false, "zero": false}, "axis": {"values": [0,10,20,30,40,50,60,70,80,90], "title": "Time\u00a0 (s)", "labelOverlap": false}},
    "y": {"field": "v", "type": "quantitative", "scale": {"domain": [-0.07, 3], "nice": false, "zero": false}, "axis": {"values": [0,1,2,3], "title": null, "labelOverlap": false}},
    "color": {"datum": "Euclidean Norm of Error (mm)", "scale": {"domain": ["Euclidean Norm of Error (mm)", "Mean Error (mm)"], "range": ["#8b0000", "#808080"]}, "legend": {"orient": "top-right", "title": null, "encode": {"symbols": {"update": {"strokeWidth": {"signal": "datum.value == 'Mean Error (mm)' ? 3.5 : 1.5"}}}}}},
    "strokeDash": {"datum": "Euclidean Norm of Error (mm)", "scale": {"domain": ["Euclidean Norm of Error (mm)", "Mean Error (mm)"], "range": [[5.5, 2.4], [12, 5]]}, "legend": {"orient": "top-right", "title": null}}
   }},
  {"data": {"values": [{"mean": 0.5}]}, "mark": {"type": "rule", "strokeWidth": 3.5},
   "encoding": {"y": {"field": "mean", "type": "quantitative", "axis": {"values": [0,1,2,3], "title": null, "labelOverlap": false}}, "color": {"datum": "Mean Error (mm)"}, "strokeDash": {"datum": "Mean Error (mm)"}}}
 ]},
{"width": 356, "height": 147,
 "title": {"text": "(c)", "dx": -12},
 "layer": [
  {"data": {"name": "c_err"}, "mark": {"type": "line", "strokeWidth": 1.5, "clip": true},
   "encoding": {
    "x": {"field": "t", "type": "quantitative", "scale": {"domain": [0, 110], "nice": false, "zero": false}, "axis": {"values": [0,10,20,30,40,50,60,70,80,90,100,110], "title": "Time\u00a0 (s)", "labelOverlap": false}},
    "y": {"field": "v", "type": "quantitative", "scale": {"domain": [-0.14, 3], "nice": false, "zero": false}, "axis": {"values": [0,1,2,3], "title": null, "labelOverlap": false}},
    "color": {"datum": "Euclidean Norm of Error (mm)", "scale": {"domain": ["Euclidean Norm of Error (mm)", "Mean Error (mm)"], "range": ["#8b0000", "#808080"]}, "legend": {"orient": "top-right", "title": null, "encode": {"symbols": {"update": {"strokeWidth": {"signal": "datum.value == 'Mean Error (mm)' ? 3.5 : 1.5"}}}}}},
    "strokeDash": {"datum": "Euclidean Norm of Error (mm)", "scale": {"domain": ["Euclidean Norm of Error (mm)", "Mean Error (mm)"], "range": [[5.5, 2.4], [12, 5]]}, "legend": {"orient": "top-right", "title": null}}
   }},
  {"data": {"values": [{"mean": 0.78}]}, "mark": {"type": "rule", "strokeWidth": 3.5},
   "encoding": {"y": {"field": "mean", "type": "quantitative", "axis": {"values": [0,1,2,3], "title": null, "labelOverlap": false}}, "color": {"datum": "Mean Error (mm)"}, "strokeDash": {"datum": "Mean Error (mm)"}}}
 ]}
],
"bounds": "flush",
"spacing": 71.5,
"resolve": {"scale": {"color": "independent", "strokeDash": "independent"}, "legend": {"color": "independent", "strokeDash": "independent"}}
}
],
"config": {
 "view": {"stroke": "black", "strokeWidth": 1},
 "font": "DejaVu Sans",
 "axis": {"labelFont": "DejaVu Sans", "labelFontSize": 12.5, "labelFontWeight": "bold", "labelColor": "black", "tickColor": "black", "tickSize": 4, "tickWidth": 1, "domain": false, "gridColor": "#b0b0b0", "gridWidth": 1, "titleFont": "DejaVu Sans", "titleFontSize": 17, "titleFontWeight": "bold", "titleColor": "black", "labelPadding": 3, "titlePadding": 5, "labelFlush": false, "labelOverlap": false},
 "legend": {"labelFont": "DejaVu Sans", "labelFontSize": 12.5, "labelColor": "black", "labelLimit": 400, "symbolType": "M-1,0H2", "symbolSize": 300, "symbolStrokeWidth": 1.5, "labelOffset": 17, "rowPadding": 2.5, "padding": 5, "offset": 6, "fillColor": "rgba(255,255,255,0.8)", "strokeColor": "#cccccc", "cornerRadius": 3},
 "title": {"orient": "bottom", "anchor": "middle", "frame": "group", "font": "Liberation Serif", "fontSize": 23, "fontWeight": "normal", "color": "black", "offset": 10}
}
}
